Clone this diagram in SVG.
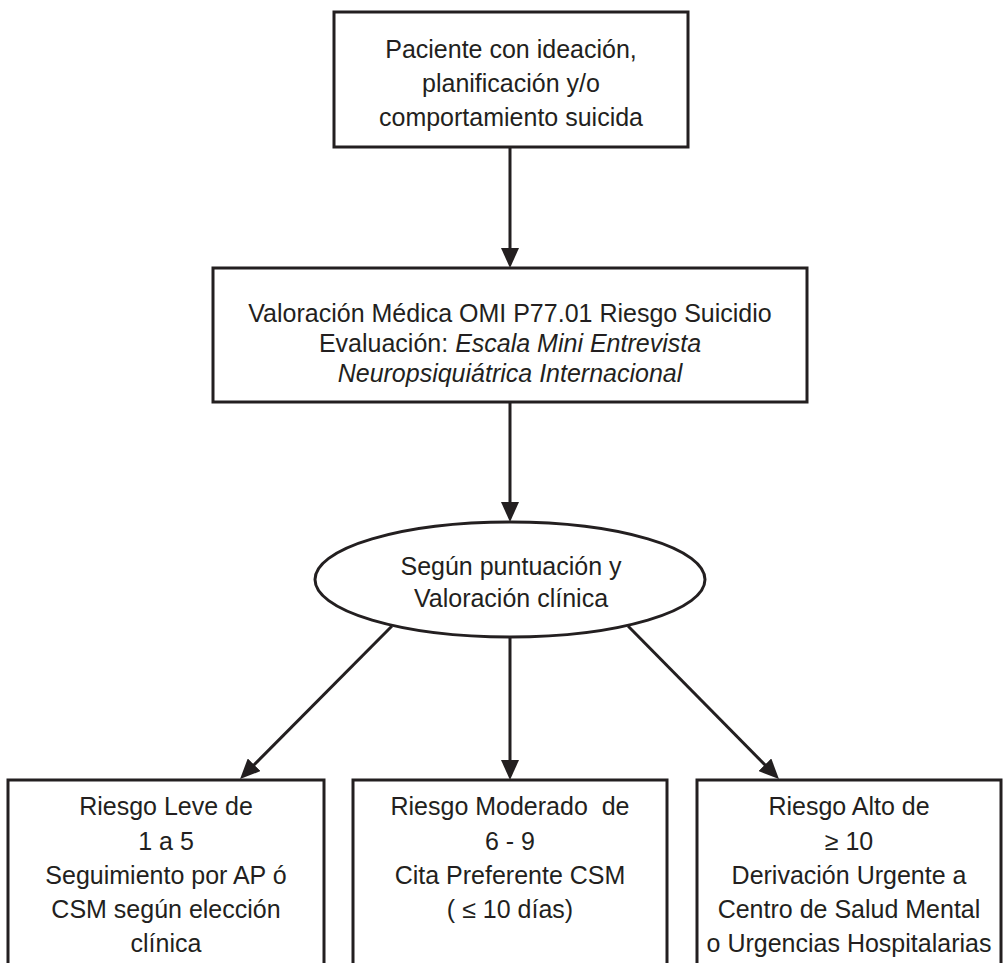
<svg xmlns="http://www.w3.org/2000/svg" width="1008" height="963" viewBox="0 0 1008 963">
<style>
  .box { fill: #ffffff; stroke: #231f20; stroke-width: 3; }
  .conn { fill: none; stroke: #231f20; stroke-width: 3; }
  .t { font-family: "Liberation Sans", Arial, sans-serif; font-size: 25px; fill: #231f20; text-anchor: middle; }
  .i { font-style: italic; }
</style>
<defs>
  <marker id="arrow" markerUnits="userSpaceOnUse" markerWidth="20" markerHeight="18" viewBox="0 0 20 18" refX="12" refY="9" orient="auto">
    <path d="M0,0 L20,9 L0,18 Z" fill="#231f20"/>
  </marker>
</defs>
<rect width="1008" height="963" fill="#ffffff"/>

<g id="connectors">
  <path class="conn" d="M510,147 L510,260" marker-end="url(#arrow)"/>
  <path class="conn" d="M510,402 L510,514" marker-end="url(#arrow)"/>
  <path class="conn" d="M392,626 L245.7,773.3" marker-end="url(#arrow)"/>
  <path class="conn" d="M510,637 L510,772" marker-end="url(#arrow)"/>
  <path class="conn" d="M628,626 L773.3,773.3" marker-end="url(#arrow)"/>
</g>

<g id="node-paciente">
  <rect class="box" x="334" y="12" width="354" height="135"/>
  <text class="t" x="511" y="58">Paciente con ideación,</text>
  <text class="t" x="511" y="92">planificación y/o</text>
  <text class="t" x="511" y="126">comportamiento suicida</text>
</g>

<g id="node-valoracion">
  <rect class="box" x="213" y="268" width="594" height="134"/>
  <text class="t" x="510" y="322">Valoración Médica OMI P77.01 Riesgo Suicidio</text>
  <text class="t" x="510" y="352">Evaluación: <tspan class="i">Escala Mini Entrevista</tspan></text>
  <text class="t i" x="510" y="382">Neuropsiquiátrica Internacional</text>
</g>

<g id="node-segun">
  <ellipse class="box" cx="510" cy="579.5" rx="195" ry="57.5"/>
  <text class="t" x="511" y="575">Según puntuación y</text>
  <text class="t" x="511" y="607">Valoración clínica</text>
</g>

<g id="node-leve">
  <rect class="box" x="8" y="780" width="316" height="200"/>
  <text class="t" x="166" y="815">Riesgo Leve de</text>
  <text class="t" x="166" y="850">1 a 5</text>
  <text class="t" x="166" y="884">Seguimiento por AP ó</text>
  <text class="t" x="166" y="918">CSM según elección</text>
  <text class="t" x="166" y="952">clínica</text>
</g>

<g id="node-moderado">
  <rect class="box" x="353" y="780" width="314" height="200"/>
  <text class="t" x="510" y="815" xml:space="preserve">Riesgo Moderado  de</text>
  <text class="t" x="510" y="850">6 - 9</text>
  <text class="t" x="510" y="884">Cita Preferente CSM</text>
  <text class="t" x="510" y="918">( ≤ 10 días)</text>
</g>

<g id="node-alto">
  <rect class="box" x="697" y="780" width="304" height="200"/>
  <text class="t" x="849" y="815">Riesgo Alto de</text>
  <text class="t" x="849" y="850">≥ 10</text>
  <text class="t" x="849" y="884">Derivación Urgente a</text>
  <text class="t" x="849" y="918">Centro de Salud Mental</text>
  <text class="t" x="849" y="952">o Urgencias Hospitalarias</text>
</g>
</svg>
